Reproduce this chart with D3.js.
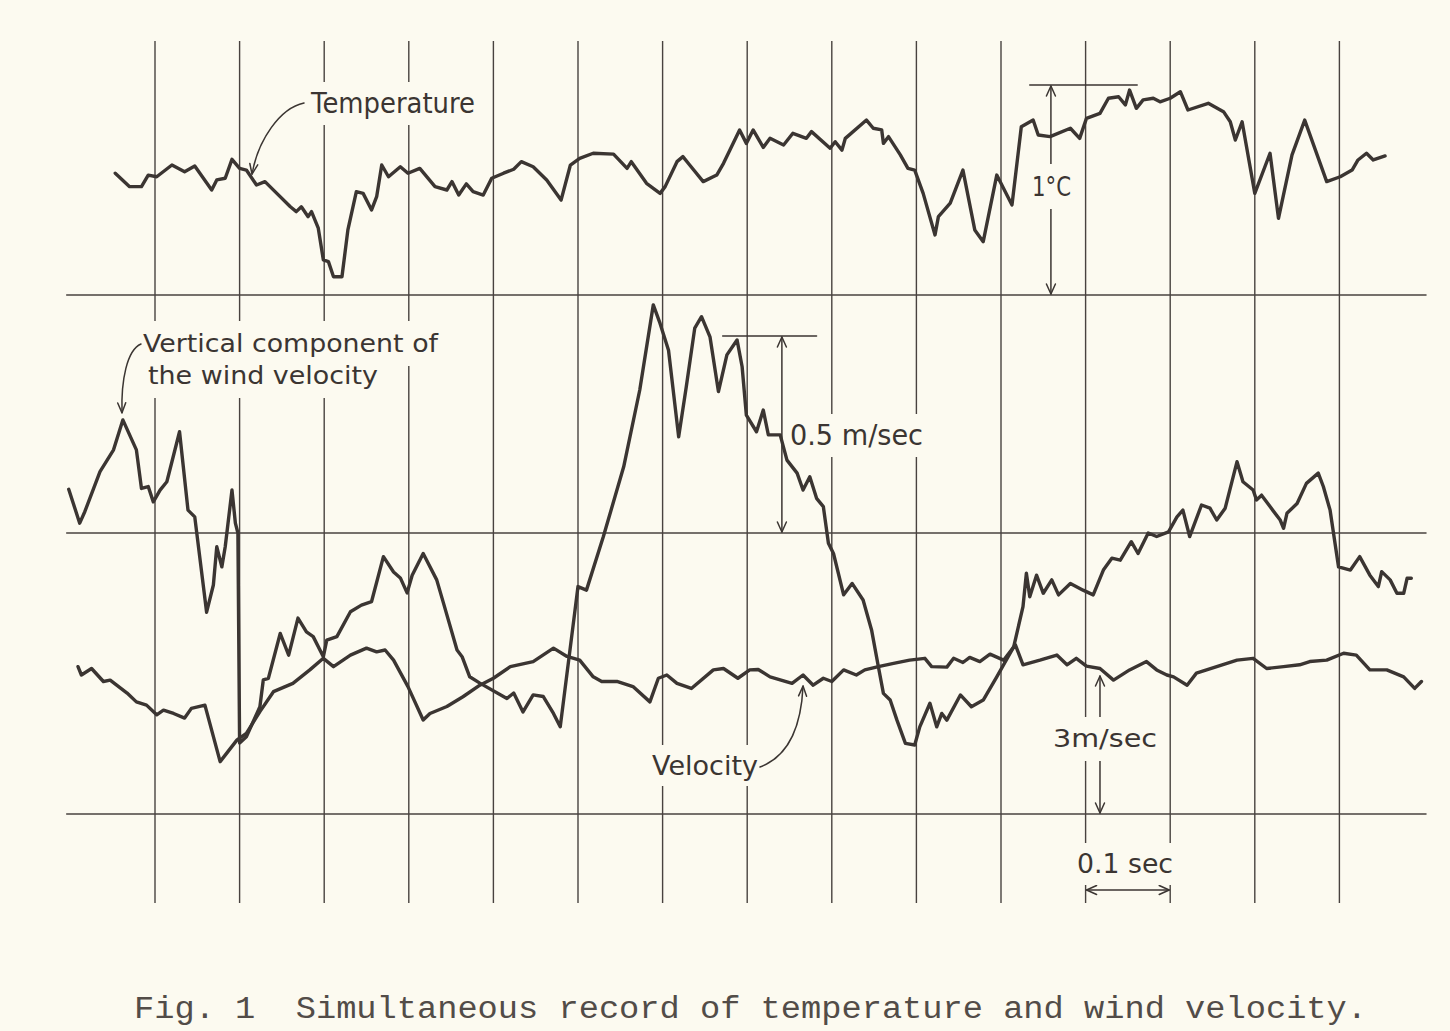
<!DOCTYPE html>
<html>
<head>
<meta charset="utf-8">
<script src="https://cdn.jsdelivr.net/npm/d3@7"></script>
<style>
  html, body { margin: 0; padding: 0; background: #fcfaf0; }
  svg { display: block; }
  .trace { fill: none; stroke: #3b3532; stroke-width: 3.4; stroke-linejoin: round; stroke-linecap: round; }
  .grid { stroke: #48423f; stroke-width: 1.4; }
  .note { fill: none; stroke: #3b3532; stroke-width: 1.5; stroke-linecap: round; stroke-linejoin: round; }
  .label { font-family: "DejaVu Sans", sans-serif; fill: #3b3532; }
  .caption { font-family: "Liberation Mono", monospace; fill: #524c48; }
</style>
</head>
<body>
<svg id="chart" width="1450" height="1031"></svg>
<script>
// time of each record point in seconds, value in the trace's own unit
// temperature above its baseline, deg C
const temperature = [
  [0.053, 0.580], [0.070, 0.516], [0.084, 0.516], [0.092, 0.571], [0.102, 0.563], [0.120, 0.619],
  [0.135, 0.587], [0.147, 0.614], [0.167, 0.500], [0.173, 0.548], [0.183, 0.556], [0.191, 0.646],
  [0.200, 0.603], [0.208, 0.595], [0.220, 0.524], [0.230, 0.540], [0.244, 0.484], [0.260, 0.420],
  [0.267, 0.397], [0.273, 0.420], [0.281, 0.373], [0.285, 0.397], [0.293, 0.318], [0.299, 0.167],
  [0.305, 0.159], [0.311, 0.087], [0.321, 0.087], [0.328, 0.310], [0.338, 0.492], [0.346, 0.484],
  [0.356, 0.405], [0.362, 0.468], [0.368, 0.619], [0.376, 0.563], [0.390, 0.611], [0.399, 0.580],
  [0.413, 0.603], [0.431, 0.516], [0.445, 0.500], [0.451, 0.540], [0.459, 0.476], [0.468, 0.529],
  [0.476, 0.492], [0.488, 0.476], [0.498, 0.556], [0.512, 0.580], [0.524, 0.599], [0.533, 0.635],
  [0.547, 0.611], [0.563, 0.548], [0.580, 0.452], [0.591, 0.619], [0.602, 0.651], [0.618, 0.675],
  [0.642, 0.671], [0.658, 0.603], [0.663, 0.635], [0.681, 0.532], [0.697, 0.484], [0.703, 0.516],
  [0.717, 0.635], [0.724, 0.659], [0.732, 0.619], [0.748, 0.540], [0.764, 0.571], [0.772, 0.627],
  [0.791, 0.786], [0.799, 0.722], [0.807, 0.786], [0.819, 0.703], [0.827, 0.746], [0.843, 0.714],
  [0.854, 0.770], [0.870, 0.746], [0.876, 0.778], [0.898, 0.699], [0.904, 0.730], [0.912, 0.690],
  [0.916, 0.746], [0.941, 0.833], [0.949, 0.794], [0.959, 0.786], [0.961, 0.722], [0.967, 0.754],
  [0.981, 0.667], [0.990, 0.603], [0.998, 0.595], [1.008, 0.484], [1.022, 0.286], [1.026, 0.373],
  [1.040, 0.437], [1.055, 0.595], [1.069, 0.310], [1.079, 0.254], [1.095, 0.571], [1.113, 0.429],
  [1.124, 0.801], [1.138, 0.833], [1.144, 0.762], [1.158, 0.754], [1.182, 0.794], [1.193, 0.746],
  [1.201, 0.841], [1.217, 0.865], [1.227, 0.937], [1.239, 0.944], [1.247, 0.905], [1.252, 0.976],
  [1.260, 0.889], [1.268, 0.929], [1.280, 0.937], [1.288, 0.920], [1.300, 0.937], [1.312, 0.968],
  [1.321, 0.881], [1.345, 0.913], [1.363, 0.873], [1.371, 0.825], [1.377, 0.738], [1.385, 0.825],
  [1.400, 0.484], [1.418, 0.675], [1.428, 0.365], [1.444, 0.667], [1.459, 0.833], [1.485, 0.540],
  [1.501, 0.563], [1.515, 0.595], [1.522, 0.643], [1.532, 0.675], [1.540, 0.643], [1.554, 0.662]
];

// vertical component of the wind velocity, m/sec
const verticalWind = [
  [-0.002, 0.111], [0.011, 0.025], [0.017, 0.054], [0.035, 0.156], [0.051, 0.211], [0.062, 0.287],
  [0.078, 0.211], [0.084, 0.113], [0.092, 0.118], [0.098, 0.079], [0.106, 0.109], [0.114, 0.130],
  [0.129, 0.257], [0.139, 0.058], [0.147, 0.041], [0.161, -0.201], [0.169, -0.132], [0.173, -0.035],
  [0.179, -0.086], [0.183, -0.035], [0.191, 0.109], [0.195, 0.025], [0.198, 0.000], [0.200, -0.533],
  [0.208, -0.517], [0.224, -0.441], [0.228, -0.373], [0.234, -0.369], [0.248, -0.255], [0.258, -0.310],
  [0.269, -0.216], [0.279, -0.251], [0.287, -0.263], [0.299, -0.314], [0.303, -0.272], [0.315, -0.263],
  [0.331, -0.200], [0.344, -0.183], [0.356, -0.174], [0.370, -0.060], [0.382, -0.099], [0.390, -0.114],
  [0.398, -0.152], [0.404, -0.107], [0.417, -0.052], [0.433, -0.119], [0.441, -0.178], [0.457, -0.297],
  [0.463, -0.314], [0.472, -0.365], [0.484, -0.381], [0.516, -0.420], [0.524, -0.406], [0.535, -0.454],
  [0.547, -0.411], [0.559, -0.415], [0.571, -0.458], [0.579, -0.492], [0.596, -0.204], [0.600, -0.136],
  [0.610, -0.145], [0.630, -0.009], [0.654, 0.168], [0.673, 0.363], [0.689, 0.579], [0.697, 0.532],
  [0.707, 0.464], [0.719, 0.244], [0.728, 0.371], [0.738, 0.520], [0.746, 0.549], [0.756, 0.498],
  [0.766, 0.359], [0.776, 0.452], [0.788, 0.490], [0.794, 0.422], [0.799, 0.299], [0.811, 0.257],
  [0.819, 0.312], [0.825, 0.249], [0.839, 0.249], [0.847, 0.185], [0.859, 0.152], [0.866, 0.109],
  [0.874, 0.143], [0.882, 0.088], [0.890, 0.067], [0.896, -0.026], [0.902, -0.052], [0.914, -0.157],
  [0.924, -0.128], [0.937, -0.170], [0.947, -0.246], [0.955, -0.339], [0.961, -0.407], [0.969, -0.424],
  [0.977, -0.475], [0.987, -0.534], [0.998, -0.538], [1.004, -0.492], [1.016, -0.432], [1.024, -0.492],
  [1.030, -0.458], [1.036, -0.475], [1.052, -0.411], [1.065, -0.441], [1.079, -0.424], [1.095, -0.365],
  [1.115, -0.289], [1.126, -0.187], [1.130, -0.102], [1.134, -0.162], [1.142, -0.107], [1.150, -0.153],
  [1.160, -0.119], [1.168, -0.157], [1.182, -0.128], [1.197, -0.145], [1.209, -0.157], [1.221, -0.094],
  [1.231, -0.064], [1.241, -0.069], [1.254, -0.022], [1.262, -0.052], [1.274, 0.000], [1.284, -0.009],
  [1.298, 0.003], [1.308, 0.041], [1.315, 0.058], [1.323, -0.009], [1.337, 0.071], [1.347, 0.063],
  [1.355, 0.033], [1.365, 0.063], [1.379, 0.181], [1.386, 0.130], [1.398, 0.109], [1.402, 0.084],
  [1.408, 0.096], [1.418, 0.067], [1.430, 0.033], [1.434, 0.012], [1.438, 0.050], [1.450, 0.075],
  [1.461, 0.126], [1.475, 0.152], [1.481, 0.118], [1.489, 0.058], [1.499, -0.086], [1.513, -0.094],
  [1.524, -0.060], [1.536, -0.107], [1.546, -0.136], [1.550, -0.098], [1.560, -0.119], [1.568, -0.153],
  [1.576, -0.153], [1.580, -0.115], [1.585, -0.115]
];

// horizontal wind velocity, m/sec
const velocity = [
  [0.009, 3.18], [0.013, 3.00], [0.025, 3.14], [0.039, 2.86], [0.047, 2.89], [0.067, 2.61],
  [0.078, 2.42], [0.090, 2.35], [0.102, 2.14], [0.110, 2.24], [0.122, 2.17], [0.135, 2.07],
  [0.143, 2.28], [0.159, 2.35], [0.177, 1.13], [0.197, 1.60], [0.208, 1.74], [0.224, 2.21],
  [0.240, 2.64], [0.263, 2.82], [0.283, 3.11], [0.299, 3.36], [0.311, 3.18], [0.331, 3.43],
  [0.350, 3.58], [0.362, 3.50], [0.372, 3.54], [0.382, 3.32], [0.399, 2.75], [0.417, 2.03],
  [0.425, 2.17], [0.445, 2.32], [0.464, 2.53], [0.484, 2.78], [0.500, 2.93], [0.520, 3.18],
  [0.547, 3.29], [0.571, 3.58], [0.587, 3.40], [0.602, 3.32], [0.618, 2.96], [0.628, 2.86],
  [0.646, 2.86], [0.665, 2.75], [0.685, 2.42], [0.695, 2.93], [0.705, 3.00], [0.717, 2.82],
  [0.734, 2.71], [0.760, 3.11], [0.772, 3.14], [0.789, 2.93], [0.803, 3.11], [0.813, 3.12],
  [0.827, 2.96], [0.853, 2.82], [0.866, 3.00], [0.878, 2.78], [0.890, 2.93], [0.900, 2.86],
  [0.914, 3.11], [0.929, 3.00], [0.939, 3.11], [0.955, 3.18], [0.973, 3.25], [0.992, 3.32],
  [1.010, 3.36], [1.018, 3.18], [1.036, 3.17], [1.044, 3.36], [1.055, 3.27], [1.063, 3.38],
  [1.075, 3.29], [1.087, 3.45], [1.103, 3.32], [1.117, 3.65], [1.126, 3.22], [1.146, 3.32],
  [1.166, 3.43], [1.178, 3.22], [1.189, 3.36], [1.201, 3.19], [1.217, 3.14], [1.233, 2.89],
  [1.252, 3.11], [1.272, 3.29], [1.284, 3.11], [1.296, 3.00], [1.304, 2.96], [1.320, 2.78],
  [1.331, 3.04], [1.355, 3.18], [1.379, 3.32], [1.398, 3.36], [1.414, 3.14], [1.434, 3.18],
  [1.453, 3.22], [1.465, 3.29], [1.485, 3.32], [1.505, 3.47], [1.520, 3.43], [1.536, 3.11],
  [1.556, 3.11], [1.576, 2.96], [1.589, 2.71], [1.597, 2.86]
];

// vertical chart lines, one every 0.1 sec
const gridTimes = [0.1, 0.2, 0.3, 0.4, 0.5, 0.6, 0.7, 0.8, 0.9, 1.0, 1.1, 1.2, 1.3, 1.4, 1.5];

const svg = d3.select("#chart");
const W = 1450, H = 1031;

const x = d3.scaleLinear().domain([0, 1.6]).range([70.4, 1424]);
const yTemp = d3.scaleLinear().domain([0, 1]).range([295, 85]);
const yWind = d3.scaleLinear().domain([0, 0.5]).range([533, 336]);
const yVel = d3.scaleLinear().domain([0, 3]).range([814, 675]);

svg.append("rect").attr("width", W).attr("height", H).attr("fill", "#fcfaf0");

const gridLayer = svg.append("g");
const scaleLayer = svg.append("g");
const maskLayer = svg.append("g");
const traceLayer = svg.append("g");
const textLayer = svg.append("g");

// chart paper: vertical time lines and the three baselines
gridLayer.selectAll("line.v")
  .data(gridTimes)
  .join("line")
  .attr("class", "grid")
  .attr("x1", (d) => x(d)).attr("x2", (d) => x(d))
  .attr("y1", 41).attr("y2", 903);

gridLayer.selectAll("line.h")
  .data([yTemp(0), yWind(0), yVel(0)])
  .join("line")
  .attr("class", "grid")
  .attr("x1", x(-0.005)).attr("x2", x(1.603))
  .attr("y1", (d) => d).attr("y2", (d) => d);

// open V arrow head, tip at (tx,ty), coming from (fx,fy)
function arrowHead(g, tx, ty, fx, fy, len = 10, half = 4.5) {
  const a = Math.atan2(ty - fy, tx - fx);
  const bx = tx - len * Math.cos(a), by = ty - len * Math.sin(a);
  const nx = -Math.sin(a) * half, ny = Math.cos(a) * half;
  g.append("path")
    .attr("class", "note")
    .attr("d", `M${bx + nx},${by + ny}L${tx},${ty}L${bx - nx},${by - ny}`);
}

function doubleArrow(g, x1, y1, x2, y2) {
  g.append("line").attr("class", "note")
    .attr("x1", x1).attr("y1", y1).attr("x2", x2).attr("y2", y2);
  arrowHead(g, x1, y1, x2, y2);
  arrowHead(g, x2, y2, x1, y1);
}

// 1 deg C scale
scaleLayer.append("line").attr("class", "note")
  .attr("x1", x(1.134)).attr("x2", x(1.261))
  .attr("y1", yTemp(1)).attr("y2", yTemp(1));
doubleArrow(scaleLayer, x(1.159), yTemp(1) + 1, x(1.159), yTemp(0) - 1);

// 0.5 m/sec scale
scaleLayer.append("line").attr("class", "note")
  .attr("x1", x(0.771)).attr("x2", x(0.882))
  .attr("y1", yWind(0.5)).attr("y2", yWind(0.5));
doubleArrow(scaleLayer, x(0.841), yWind(0.5) + 1, x(0.841), yWind(0) - 1);

// 3 m/sec scale
doubleArrow(scaleLayer, x(1.217), yVel(3) + 1, x(1.217), yVel(0) - 1);

// 0.1 sec scale
doubleArrow(scaleLayer, x(1.2) + 1, 890, x(1.3) - 1, 890);

// the three records
const line = d3.line().x((d) => x(d[0]));

traceLayer.append("path").attr("class", "trace")
  .attr("d", line.y((d) => yTemp(d[1]))(temperature));
traceLayer.append("path").attr("class", "trace")
  .attr("d", line.y((d) => yWind(d[1]))(verticalWind));
traceLayer.append("path").attr("class", "trace")
  .attr("d", line.y((d) => yVel(d[1]))(velocity));

// lettering, with a patch of paper behind it
function label(text, lx, ly, size, width, padX = 4, padY = 5) {
  const t = textLayer.append("text")
    .attr("class", "label")
    .attr("x", lx).attr("y", ly)
    .attr("font-size", size)
    .attr("textLength", width)
    .attr("lengthAdjust", "spacingAndGlyphs")
    .text(text);
  const b = t.node().getBBox();
  maskLayer.append("rect")
    .attr("x", b.x - padX).attr("y", b.y - padY)
    .attr("width", b.width + 2 * padX).attr("height", b.height + 2 * padY)
    .attr("fill", "#fcfaf0");
  return t;
}

label("Temperature", 311, 113, 28, 164);
label("Vertical component of", 143, 352, 25, 295, 4, 8);
label("the wind velocity", 148, 384, 25, 230, 4, 8);
label("0.5 m/sec", 790, 445, 28, 133, 3, 5);
label("1°C", 1032, 196, 27, 39, 4, 7);
label("Velocity", 652, 775, 27, 106);
label("3m/sec", 1053, 747, 24, 104, 4, 8);
label("0.1 sec", 1077, 873, 26, 96, 4, 6);

// curved pointers from the names to their traces
function pointer(p0, c1, c2, tip) {
  textLayer.append("path").attr("class", "note")
    .attr("stroke-width", 1.3)
    .attr("d", `M${p0[0]},${p0[1]}C${c1[0]},${c1[1]} ${c2[0]},${c2[1]} ${tip[0]},${tip[1]}`);
  arrowHead(textLayer, tip[0], tip[1], c2[0], c2[1], 10, 4);
}

pointer([304, 103], [280, 108], [258, 140], [x(0.2147), yTemp(0.576)]);
pointer([141, 344], [127, 350], [121, 380], [x(0.061), yWind(0.305)]);
pointer([760, 767], [787, 757], [801, 730], [x(0.866), yVel(2.76)]);

svg.append("text")
  .attr("class", "caption")
  .attr("x", 134).attr("y", 1018)
  .attr("font-size", 31)
  .attr("textLength", 1233)
  .attr("lengthAdjust", "spacingAndGlyphs")
  .attr("xml:space", "preserve")
  .style("white-space", "pre")
  .text("Fig. 1  Simultaneous record of temperature and wind velocity.");
</script>
</body>
</html>
